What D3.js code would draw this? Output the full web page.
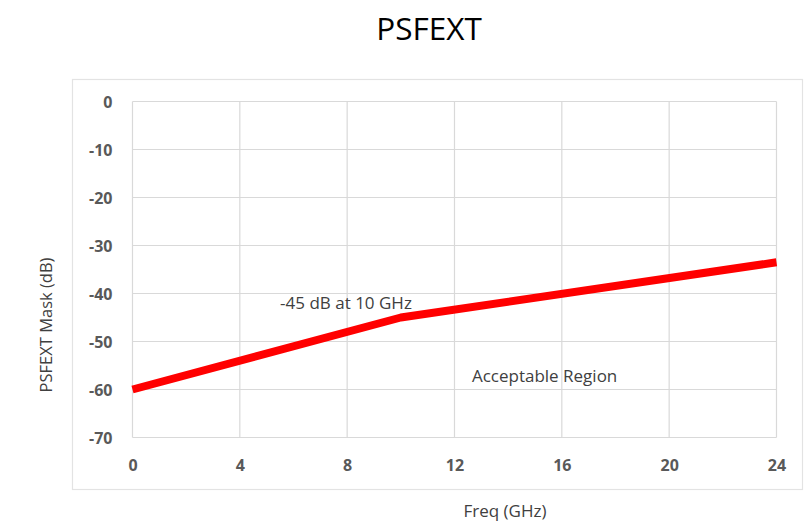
<!DOCTYPE html>
<html>
<head>
<meta charset="utf-8">
<script src="https://cdn.jsdelivr.net/npm/d3@7"></script>
<style>
  html, body { margin: 0; padding: 0; background: #fff; }
  svg { display: block; font-family: "Open Sans", "Noto Sans", sans-serif; }
</style>
</head>
<body>
<svg id="chart" width="808" height="525"></svg>
<script>
// PSFEXT mask: frequency breakpoints (GHz) and limit values (dB)
const freqGHz = [0, 10, 24];
const maskDb = [-60, -45, -33.5];
const xTicks = [0, 4, 8, 12, 16, 20, 24];
const yTicks = [0, -10, -20, -30, -40, -50, -60, -70];
const annotations = [
  { text: "-45 dB at 10 GHz", x: 5.5, y: -43.2 },
  { text: "Acceptable Region", x: 12.65, y: -58.4 }
];

const svg = d3.select("#chart");
const plot = { left: 132.5, right: 776.5, top: 101.5, bottom: 437.5 };

const x = d3.scaleLinear().domain([0, 24]).range([plot.left, plot.right]);
const y = d3.scaleLinear().domain([-70, 0]).range([plot.bottom, plot.top]);

// Title
svg.append("text")
  .attr("x", 429).attr("y", 40)
  .attr("text-anchor", "middle")
  .attr("font-size", 31.5)
  .attr("fill", "#000")
  .text("PSFEXT");

// Chart frame
svg.append("rect")
  .attr("x", 72.5).attr("y", 79.5)
  .attr("width", 730).attr("height", 410)
  .attr("fill", "none")
  .attr("stroke", "#e3e3e3")
  .attr("stroke-width", 1.2);

// Gridlines
const grid = svg.append("g").attr("stroke", "#d9d9d9").attr("stroke-width", 1.2);
grid.selectAll(".gy").data(yTicks).join("line")
  .attr("x1", plot.left).attr("x2", plot.right)
  .attr("y1", d => y(d)).attr("y2", d => y(d));
grid.selectAll(".gx").data(xTicks).join("line")
  .attr("y1", plot.top).attr("y2", plot.bottom)
  .attr("x1", d => x(d)).attr("x2", d => x(d));

// Axes (labels only, no domain or tick marks)
const fmt = d => String(d);
const yAxis = svg.append("g")
  .attr("transform", `translate(${plot.left - 8},0)`)
  .call(d3.axisLeft(y).tickValues(yTicks).tickSize(0).tickPadding(12).tickFormat(fmt));
const xAxis = svg.append("g")
  .attr("transform", `translate(0,${plot.bottom + 8})`)
  .call(d3.axisBottom(x).tickValues(xTicks).tickSize(0).tickPadding(14).tickFormat(fmt));
[yAxis, xAxis].forEach(g => {
  g.select(".domain").remove();
  g.selectAll("text")
    .attr("font-family", "'Open Sans', sans-serif")
    .attr("font-size", 16)
    .attr("font-weight", "bold")
    .attr("fill", "#595959");
});
yAxis.selectAll("text").attr("dy", "0.36em");

// Axis titles
svg.append("text")
  .attr("transform", "translate(52,325) rotate(-90)")
  .attr("text-anchor", "middle")
  .attr("font-size", 16.5)
  .attr("fill", "#404040")
  .text("PSFEXT Mask (dB)");
svg.append("text")
  .attr("x", 505).attr("y", 517)
  .attr("text-anchor", "middle")
  .attr("font-size", 17)
  .attr("fill", "#404040")
  .text("Freq (GHz)");

// Mask line
const pts = freqGHz.map((f, i) => [f, maskDb[i]]);
svg.append("path")
  .datum(pts)
  .attr("d", d3.line().x(d => x(d[0])).y(d => y(d[1])))
  .attr("fill", "none")
  .attr("stroke", "#ff0000")
  .attr("stroke-width", 8)
  .attr("stroke-linejoin", "round");

// Annotations
svg.selectAll(".note").data(annotations).join("text")
  .attr("x", d => x(d.x)).attr("y", d => y(d.y))
  .attr("font-size", 17)
  .attr("fill", "#404040")
  .text(d => d.text);
</script>
</body>
</html>
